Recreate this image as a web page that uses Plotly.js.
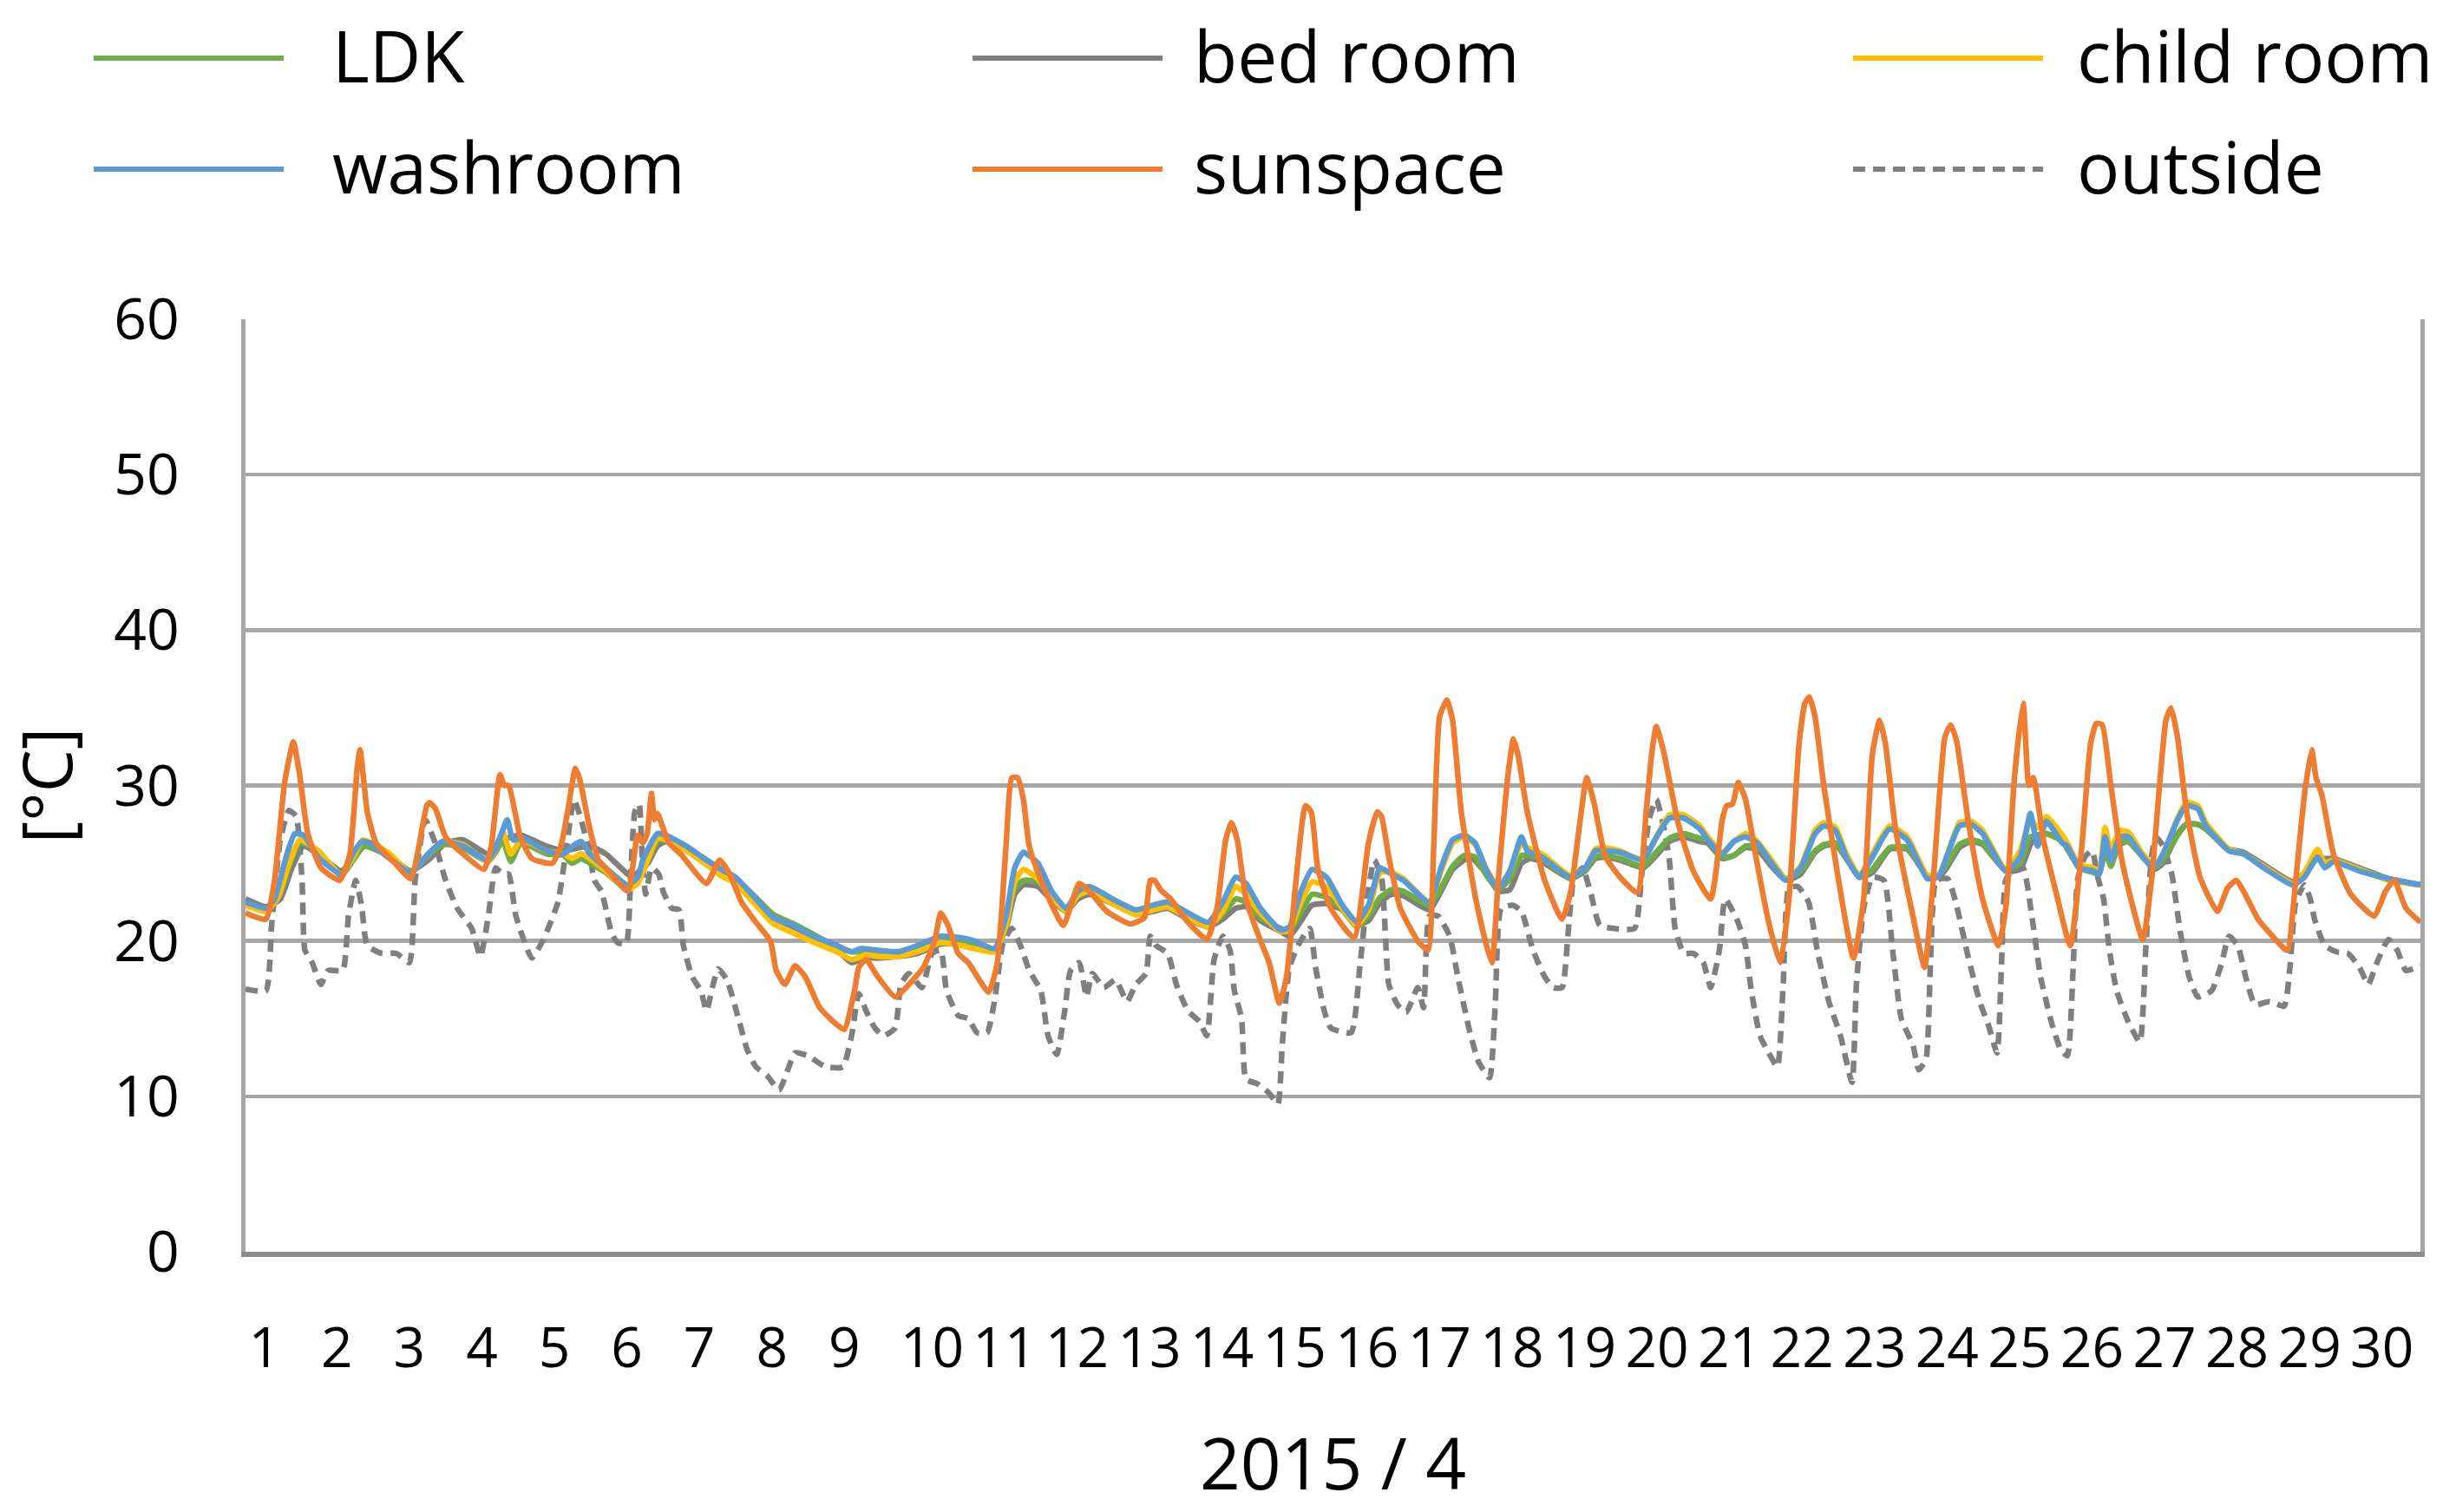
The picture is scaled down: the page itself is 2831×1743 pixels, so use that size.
<!DOCTYPE html>
<html>
<head>
<meta charset="utf-8">
<script src="https://cdn.plot.ly/plotly-3.0.1.min.js"></script>
<style>
  html, body { margin: 0; padding: 0; background: #fff; }
  #chart { width: 2831px; height: 1743px; }
</style>
</head>
<body>
<div id="chart"></div>
<script>
// x values are day-of-month (1.0 = 4/1 0:00, 31.0 = 4/30 24:00), y values in deg C
var dayLabels = ['1','2','3','4','5','6','7','8','9','10','11','12','13','14','15',
                 '16','17','18','19','20','21','22','23','24','25','26','27','28','29','30'];
var tempTicks = [0, 10, 20, 30, 40, 50, 60];

var sunspaceDay = [1.00,1.28,1.40,1.54,1.66,1.74,1.86,2.04,2.30,2.44,2.54,2.58,2.68,2.80,3.04,3.28,3.38,3.50,3.54,3.62,3.76,4.00,4.29,4.39,4.51,4.57,4.63,4.79,4.95,5.23,5.35,5.45,5.55,5.61,5.75,5.87,
  5.97,6.27,6.41,6.48,6.54,6.60,6.64,6.68,6.84,7.00,7.36,7.54,7.68,7.84,8.04,8.24,8.32,8.44,8.58,8.72,8.92,9.16,9.26,9.40,9.46,9.56,9.72,9.96,10.07,10.35,10.51,10.59,10.69,10.83,
  10.97,11.25,11.37,11.49,11.57,11.65,11.73,11.81,11.97,12.28,12.40,12.50,12.64,12.88,13.20,13.40,13.48,13.54,13.62,13.76,14.00,14.26,14.40,14.52,14.60,14.68,14.80,14.96,15.12,15.26,15.36,15.48,15.62,15.70,15.79,
  15.97,16.29,16.49,16.61,16.67,16.77,16.93,17.17,17.31,17.39,17.47,17.57,17.65,17.77,17.97,18.19,18.28,18.42,18.49,18.56,18.68,18.92,19.16,19.28,19.40,19.50,19.60,19.76,19.96,20.20,20.32,20.40,20.46,20.56,20.76,
  20.97,21.21,21.37,21.43,21.51,21.59,21.69,21.85,22.01,22.17,22.29,22.43,22.51,22.57,22.65,22.77,22.96,23.18,23.32,23.44,23.54,23.62,23.76,24.00,24.16,24.28,24.44,24.52,24.60,24.76,24.96,25.18,25.28,25.40,25.52,25.60,25.66,25.80,
  25.97,26.17,26.33,26.45,26.53,26.61,26.73,26.89,27.17,27.29,27.41,27.49,27.56,27.65,27.77,27.96,28.20,28.34,28.46,28.56,28.76,29.00,29.16,29.28,29.40,29.50,29.56,29.64,29.80,30.04,30.36,30.52,30.64,30.80,31.00];
var sunspaceT = [21.8,21.4,23.9,30.2,32.8,30.9,26.9,24.7,23.9,25.6,31.1,32.3,28.3,26.3,25.1,24.0,25.8,28.7,28.9,28.5,26.7,25.6,24.6,26.1,30.7,30.0,30.0,26.7,25.3,25.0,26.1,28.5,31.1,30.4,27.2,25.2,
  24.7,23.2,26.8,26.3,26.9,29.5,27.8,28.2,26.3,25.6,23.7,25.2,24.3,22.5,21.2,20.0,18.1,17.2,18.4,17.7,15.7,14.6,14.3,16.8,18.3,18.8,17.7,16.4,16.8,18.3,20.1,21.8,21.0,19.2,
  18.6,16.7,18.6,26.1,30.5,30.5,29.1,26.1,23.9,21.0,22.5,23.7,23.2,21.9,21.1,21.5,23.9,23.9,23.3,22.7,21.2,20.1,22.1,26.5,27.6,26.5,22.7,20.5,18.6,16.0,17.7,23.4,28.7,28.3,24.7,
  22.1,20.2,26.3,28.3,28.0,25.4,22.1,20.0,19.4,26.1,34.4,35.5,34.2,28.3,22.7,18.6,23.9,30.9,33.0,31.8,28.3,23.9,21.4,23.2,27.4,30.5,28.9,25.4,24.1,23.1,28.3,32.2,33.8,32.2,27.6,
  24.5,22.7,27.8,28.7,28.8,30.2,29.1,25.0,21.2,18.6,22.7,32.7,35.3,35.7,34.4,30.0,24.3,18.9,22.7,32.0,34.2,32.7,27.2,21.6,18.3,23.9,33.1,33.9,32.9,27.8,22.7,19.7,22.1,30.5,35.3,30.0,30.5,26.5,
  23.2,19.7,26.1,32.7,34.0,33.9,30.0,25.0,20.1,23.9,30.5,34.2,35.0,33.1,28.5,24.1,21.9,23.4,23.9,23.2,21.4,20.1,19.4,23.9,29.4,32.3,30.5,29.4,25.6,23.0,21.6,23.2,23.9,22.1,21.2];

var outsideDay = [1.00,1.28,1.36,1.48,1.60,1.70,1.78,1.82,1.92,2.04,2.14,2.34,2.42,2.52,2.60,2.68,2.88,3.08,3.26,3.34,3.48,3.60,3.76,3.92,4.12,4.24,4.35,4.45,4.55,4.63,4.73,4.95,5.11,5.31,5.43,5.53,5.63,5.75,5.81,5.91,
  6.05,6.13,6.25,6.31,6.37,6.43,6.47,6.52,6.60,6.70,6.76,6.88,6.98,7.04,7.16,7.28,7.36,7.44,7.52,7.64,7.80,7.92,8.04,8.20,8.36,8.48,8.58,8.76,9.00,9.24,9.36,9.46,9.56,9.68,9.80,9.96,10.04,10.15,10.33,10.47,10.59,10.67,10.83,
  10.97,11.09,11.23,11.33,11.45,11.57,11.69,11.81,11.97,12.07,12.19,12.30,12.38,12.50,12.60,12.68,12.84,13.00,13.16,13.28,13.42,13.48,13.56,13.72,13.84,14.00,14.16,14.26,14.36,14.48,14.58,14.64,14.74,14.80,14.96,15.12,15.24,15.30,15.40,15.54,15.68,15.76,15.88,
  15.97,16.25,16.37,16.47,16.57,16.67,16.71,16.77,16.89,17.01,17.17,17.25,17.33,17.45,17.61,17.73,17.89,18.01,18.16,18.24,18.32,18.48,18.60,18.76,18.92,19.04,19.16,19.24,19.32,19.44,19.56,19.68,19.88,20.16,20.26,20.36,20.46,20.56,20.64,20.72,20.84,
  20.97,21.11,21.21,21.33,21.41,21.57,21.69,21.77,21.89,22.01,22.13,22.21,22.29,22.41,22.56,22.68,22.84,23.00,23.16,23.22,23.32,23.44,23.60,23.72,23.84,24.00,24.08,24.18,24.24,24.32,24.48,24.60,24.76,24.92,25.04,25.16,25.22,25.28,25.40,25.52,25.64,25.76,25.92,
  26.04,26.13,26.21,26.27,26.37,26.47,26.55,26.63,26.71,26.81,26.97,27.13,27.21,27.29,27.35,27.45,27.57,27.69,27.81,27.93,28.12,28.26,28.36,28.48,28.60,28.72,28.92,29.12,29.20,29.28,29.40,29.48,29.54,29.68,29.84,30.00,30.16,30.28,30.40,30.56,30.68,30.80,31.00];
var outsideT = [16.9,16.8,21.0,26.5,28.4,28.0,23.9,19.4,18.6,17.2,18.1,18.1,21.6,23.9,22.3,19.7,19.2,19.2,18.6,23.9,27.8,26.5,23.9,22.1,20.8,19.0,21.6,24.7,24.3,24.3,21.6,18.9,20.1,22.5,26.1,29.1,27.8,25.6,23.9,23.2,
  20.5,19.9,19.8,23.9,28.3,28.8,25.6,23.0,24.7,24.3,23.2,22.1,22.0,19.7,17.7,16.8,15.5,17.0,18.2,17.5,15.0,13.0,11.9,11.3,10.4,11.7,12.8,12.6,11.9,11.9,13.9,16.6,15.5,14.4,13.9,14.4,17.2,17.9,17.0,19.2,19.4,16.8,15.2,
  15.0,14.1,14.1,16.1,19.9,20.8,19.7,18.1,16.8,13.9,12.7,15.5,18.1,18.6,16.4,17.9,17.0,17.5,16.1,17.2,17.9,20.3,19.7,19.2,17.2,15.5,14.8,13.9,18.8,20.3,19.4,16.8,15.0,11.1,10.8,10.2,9.5,13.3,18.3,19.9,20.8,18.3,15.5,
  14.4,14.1,18.3,22.7,25.2,24.1,21.6,17.2,15.9,15.4,17.0,15.7,21.6,21.6,20.3,17.5,14.1,12.2,11.2,16.1,22.1,22.3,21.9,19.4,17.7,17.0,17.0,20.3,23.9,24.7,23.0,21.0,20.8,20.8,24.3,27.8,29.1,27.4,25.2,20.8,19.2,
  19.2,18.6,17.0,19.4,22.7,21.4,19.7,16.8,13.9,12.8,11.9,17.2,23.4,23.5,22.5,19.4,16.1,13.9,10.9,17.2,22.1,24.1,23.9,19.4,15.0,13.3,11.7,12.4,18.3,23.9,24.0,22.3,19.0,16.1,14.6,12.8,18.3,23.9,24.7,24.7,21.6,17.7,14.6,
  13.0,12.6,18.3,23.9,25.4,25.8,24.1,22.7,19.4,16.8,14.8,13.5,19.4,25.4,26.7,26.1,24.3,20.5,17.7,16.4,16.8,18.6,20.3,19.7,17.5,15.9,16.1,15.8,18.3,22.5,23.6,22.7,21.4,19.7,19.3,19.2,18.3,17.2,18.6,20.1,19.4,18.1,18.4];

var washroomDay = [1.00,1.28,1.40,1.56,1.68,1.80,2.00,2.32,2.48,2.60,2.72,2.96,3.28,3.52,3.72,4.00,4.35,4.53,4.61,4.69,4.83,5.15,5.39,5.51,5.63,5.75,
  5.97,6.27,6.41,6.48,6.68,6.80,7.08,7.36,7.56,7.76,8.04,8.28,8.56,8.84,9.16,9.36,9.48,9.72,10.00,10.27,10.59,10.87,
  11.05,11.33,11.49,11.61,11.73,11.93,12.12,12.32,12.48,12.64,12.96,13.28,13.52,13.72,14.00,14.28,14.48,14.66,14.80,15.00,15.28,15.40,15.56,15.71,15.91,
  16.13,16.33,16.49,16.65,16.81,16.97,17.33,17.49,17.65,17.81,17.96,18.12,18.28,18.44,18.60,18.68,18.88,19.28,19.48,19.62,19.76,19.96,20.28,20.44,20.64,20.84,
  21.06,21.17,21.37,21.53,21.69,21.85,22.05,22.25,22.45,22.65,22.77,22.93,23.08,23.26,23.44,23.68,23.92,24.20,24.36,24.48,24.64,24.80,24.96,25.28,25.48,25.62,25.72,25.84,
  26.06,26.13,26.29,26.49,26.57,26.65,26.73,26.85,26.97,27.17,27.33,27.45,27.65,27.77,27.93,28.04,28.36,28.56,28.84,29.24,29.40,29.58,29.68,29.80,30.16,30.56,31.00];
var washroomT = [22.5,22.1,22.7,25.4,26.9,26.8,25.4,24.3,25.6,26.4,26.3,25.4,24.4,25.6,26.4,26.1,25.2,26.9,27.8,26.5,26.6,25.8,25.6,26.1,26.4,25.6,
  24.7,23.6,24.1,25.2,26.9,26.8,26.1,25.2,24.6,24.1,22.7,21.5,21.0,20.3,19.7,19.3,19.5,19.4,19.3,19.7,20.3,20.2,
  20.0,19.5,21.6,24.7,25.7,25.0,23.2,22.1,23.2,23.5,22.7,22.0,22.3,22.5,21.8,21.2,22.5,24.1,23.7,22.1,20.7,20.9,23.2,24.6,24.1,
  22.3,21.2,22.3,24.7,24.3,23.9,22.5,24.7,26.5,26.8,26.3,24.5,23.4,24.5,26.7,25.8,25.4,24.1,24.7,25.8,25.8,25.7,25.2,26.5,27.9,27.9,
  27.2,26.5,25.6,26.4,26.7,26.3,25.0,23.9,24.7,26.9,27.4,27.1,25.4,24.1,25.4,27.2,26.5,24.0,24.2,25.6,27.4,27.5,26.9,24.5,25.4,28.2,26.1,27.7,
  26.3,26.1,24.7,24.5,24.3,26.7,25.2,26.7,26.7,25.4,24.7,25.6,27.8,28.7,28.5,27.4,25.8,25.6,24.7,23.6,24.1,25.4,24.7,25.1,24.5,24.0,23.6];

var childDay = [1.00,1.28,1.45,1.60,1.75,2.00,2.32,2.50,2.62,2.96,3.28,3.50,3.72,4.00,4.35,4.55,4.66,4.80,5.15,5.39,5.50,5.63,5.75,
  5.97,6.27,6.41,6.68,6.80,7.08,7.36,7.56,7.76,8.04,8.28,8.56,8.84,9.16,9.36,9.56,9.72,10.00,10.27,10.59,10.87,
  11.05,11.33,11.49,11.61,11.73,11.93,12.12,12.32,12.48,12.64,12.96,13.28,13.52,13.72,14.00,14.28,14.48,14.66,14.80,15.00,15.28,15.40,15.56,15.71,15.91,
  16.13,16.33,16.49,16.65,16.81,16.97,17.33,17.49,17.65,17.81,17.96,18.12,18.28,18.44,18.60,18.68,18.88,19.28,19.48,19.62,19.76,19.96,20.28,20.44,20.64,20.84,
  21.06,21.17,21.37,21.53,21.69,21.85,22.05,22.25,22.45,22.65,22.77,22.93,23.08,23.26,23.44,23.68,23.92,24.20,24.36,24.48,24.64,24.80,24.96,25.28,25.48,25.62,25.72,25.84,
  26.06,26.13,26.29,26.49,26.57,26.65,26.73,26.85,26.97,27.17,27.33,27.45,27.65,27.77,27.93,28.04,28.36,28.56,28.84,29.24,29.40,29.58,29.68,29.80,30.16,30.56,31.00];
var childT = [22.3,21.9,22.8,25.0,26.5,25.8,24.3,25.5,26.5,25.7,24.4,25.5,26.4,26.2,25.1,27.0,25.6,26.5,25.8,25.6,25.3,25.6,25.3,
  24.5,23.3,23.7,26.6,26.5,25.8,24.9,24.2,23.7,22.3,21.1,20.5,19.9,19.3,18.8,19.1,19.0,19.0,19.3,19.9,19.7,
  19.5,19.3,21.0,23.8,24.6,24.0,22.8,21.9,22.9,23.2,22.4,21.7,22.0,22.2,21.5,20.9,21.9,23.5,23.0,21.8,20.6,20.7,22.5,23.8,23.5,
  22.1,21.0,22.0,24.4,24.4,24.0,22.5,24.5,26.3,26.7,26.2,24.6,23.5,24.5,26.3,26.0,25.6,24.2,24.7,25.9,26.0,25.8,25.2,26.5,28.1,28.1,
  27.4,26.7,25.7,26.4,26.9,26.4,25.2,24.0,24.8,27.1,27.6,27.3,25.6,24.2,25.6,27.4,26.7,24.2,24.3,25.6,27.6,27.7,27.1,24.6,25.8,27.8,27.3,28.0,
  26.8,26.3,24.9,24.7,24.5,27.3,25.8,27.1,27.0,25.6,24.8,25.6,27.9,28.9,28.7,27.6,25.9,25.6,24.8,23.7,24.4,25.9,25.0,25.2,24.6,23.9,23.6];

var ldkDay = childDay;
var ldkT = [22.4,22.0,22.8,24.8,26.3,25.8,24.2,25.3,26.1,25.6,24.4,25.4,26.2,26.0,25.1,26.4,25.1,26.3,25.6,25.5,25.0,25.3,25.0,
  24.4,23.3,23.8,26.4,26.5,25.9,25.1,24.5,24.0,22.8,21.7,21.1,20.4,19.6,19.3,19.3,19.2,19.3,19.5,20.0,20.0,
  19.8,19.5,21.0,23.4,23.9,23.8,22.8,22.0,22.9,23.2,22.5,21.8,22.0,22.2,21.6,21.0,21.7,22.7,22.5,21.5,20.8,20.6,21.8,23.0,22.8,
  22.0,20.9,21.6,22.8,23.3,23.2,22.3,23.4,24.8,25.5,25.4,24.2,23.3,24.0,25.5,25.5,25.3,24.0,24.6,25.4,25.5,25.3,24.8,25.6,26.6,26.9,
  26.6,26.5,25.4,25.5,26.1,26.1,25.1,24.0,24.5,25.8,26.2,26.3,25.4,24.1,24.6,26.0,26.0,24.2,24.3,25.0,26.2,26.5,26.3,24.6,25.0,26.7,26.7,26.9,
  26.4,26.0,24.7,24.4,24.3,26.0,24.8,26.4,26.4,25.4,24.7,25.2,26.8,27.5,27.5,27.2,25.8,25.6,24.8,23.7,24.3,25.3,25.1,25.2,24.6,24.0,23.6];

var bedDay = [1.00,1.28,1.48,1.64,1.80,2.00,2.32,2.48,2.64,2.96,3.28,3.52,3.76,4.00,4.35,4.55,4.79,5.15,5.39,5.75,
  5.97,6.27,6.35,6.41,6.55,6.68,6.80,7.08,7.36,7.56,7.76,8.04,8.28,8.56,8.84,9.16,9.36,9.56,9.72,10.00,10.27,10.59,10.87,
  11.05,11.33,11.49,11.61,11.73,11.93,12.12,12.32,12.48,12.64,12.96,13.28,13.52,13.72,14.00,14.28,14.48,14.66,14.80,15.00,15.28,15.40,15.56,15.71,15.91,
  16.13,16.33,16.49,16.65,16.81,16.97,17.33,17.49,17.65,17.89,18.12,18.28,18.44,18.60,18.72,18.88,19.28,19.48,19.62,19.76,19.96,20.28,20.44,20.64,20.84,
  21.06,21.17,21.37,21.53,21.69,21.85,22.05,22.25,22.45,22.65,22.77,22.93,23.08,23.26,23.44,23.68,23.92,24.20,24.36,24.48,24.64,24.80,24.96,25.28,25.48,25.62,25.72,25.84,
  26.06,26.13,26.29,26.49,26.57,26.65,26.73,26.85,26.97,27.17,27.33,27.45,27.65,27.77,27.93,28.04,28.36,28.56,28.84,29.24,29.40,29.58,29.68,29.80,30.16,30.56,31.00];
var bedT = [22.7,22.2,22.7,24.7,26.1,25.6,24.5,25.2,26.1,25.5,24.5,25.2,26.3,26.5,25.6,26.5,26.8,26.1,25.8,26.1,
  25.6,24.3,24.1,24.4,25.0,26.1,26.4,26.0,25.2,24.6,24.0,22.7,21.5,20.9,20.2,19.4,18.6,18.9,18.9,19.0,19.2,19.8,19.8,
  19.6,19.4,20.8,23.0,23.6,23.5,22.6,21.9,22.7,23.0,22.4,21.7,21.9,22.1,21.4,20.9,21.4,22.1,22.2,21.3,20.6,20.3,21.3,22.3,22.4,
  22.0,21.0,21.3,22.5,23.0,22.9,22.0,23.2,24.6,25.4,24.3,23.2,23.3,25.0,25.3,25.1,24.0,24.5,25.3,25.4,25.2,24.7,25.4,26.4,26.7,
  26.4,26.3,25.3,25.5,26.0,25.9,24.8,23.9,24.3,25.7,26.1,26.2,25.3,24.1,24.4,25.9,25.9,24.2,24.1,24.8,26.0,26.4,26.2,24.5,24.6,26.2,26.8,26.9,
  26.5,25.9,24.8,24.7,24.4,25.7,24.9,26.2,26.4,25.4,24.6,25.0,26.9,27.5,27.5,27.2,25.9,25.7,24.9,23.8,24.4,25.4,25.3,25.3,24.7,24.0,23.6];

var seriesNames  = ['LDK', 'bed room', 'child room', 'washroom', 'sunspace', 'outside'];
var seriesColors = ['#70AD47', '#7F7F7F', '#FFC000', '#5B9BD5', '#ED7D31', '#7F7F7F'];
var seriesDash   = ['solid', 'solid', 'solid', 'solid', 'solid', '14px,9px'];
var seriesX = [ldkDay, bedDay, childDay, washroomDay, sunspaceDay, outsideDay];
var seriesY = [ldkT, bedT, childT, washroomT, sunspaceT, outsideT];

var fontFamily = '"Open Sans", "Noto Sans", sans-serif';

// drawing order: outside underneath, rooms, sunspace on top
var drawOrder = [5, 1, 0, 2, 3, 4];
var data = drawOrder.map(function (i) {
    return {
        x: seriesX[i],
        y: seriesY[i],
        type: 'scatter',
        mode: 'lines',
        name: seriesNames[i],
        line: { color: seriesColors[i], width: 6.5, dash: seriesDash[i], shape: 'spline', smoothing: 0.5 },
        showlegend: false,
        hoverinfo: 'skip'
    };
});

// plot area in pixels
var W = 2831, H = 1743;
var mL = 283, mR = 41, mT = 368, mB = 300;
var pw = W - mL - mR, ph = H - mT - mB;
function px2x(p) { return (p - mL) / pw; }
function px2y(p) { return (H - mB - p) / ph; }

// legend drawn by hand: long line samples, 3 columns x 2 rows
var legCols = [108, 1121, 2136];
var legText = [381, 1374, 2392];
var legRows = [67, 195];
var shapes = [];
var annotations = [];
seriesNames.forEach(function (name, i) {
    var c = i % 3, r = Math.floor(i / 3);
    shapes.push({
        type: 'line', xref: 'paper', yref: 'paper',
        x0: px2x(legCols[c]), x1: px2x(legCols[c] + 219),
        y0: px2y(legRows[r]), y1: px2y(legRows[r]),
        line: { color: seriesColors[i], width: 6, dash: seriesDash[i] }
    });
    annotations.push({
        xref: 'paper', yref: 'paper',
        x: px2x(legText[c]), y: px2y(legRows[r] - 4),
        xanchor: 'left', yanchor: 'middle',
        text: name, showarrow: false,
        font: { family: fontFamily, size: 82, color: '#000' }
    });
});

var layout = {
    width: W,
    height: H,
    autosize: false,
    margin: { l: mL, r: mR, t: mT, b: mB },
    paper_bgcolor: '#fff',
    plot_bgcolor: '#fff',
    showlegend: false,
    font: { family: fontFamily, color: '#000' },
    xaxis: {
        range: [1, 31],
        tickmode: 'array',
        tickvals: dayLabels.map(function (s, i) { return i + 1.05 + s.length * 0.21; }),
        ticktext: dayLabels,
        ticks: '',
        showgrid: false,
        zeroline: false,
        showline: true,
        linecolor: '#8C8C8C',
        linewidth: 6,
        mirror: false,
        ticklabelstandoff: 50,
        tickfont: { family: fontFamily, size: 64, color: '#000' },
        title: { text: '2015 / 4', standoff: 68, font: { family: fontFamily, size: 82, color: '#000' } }
    },
    yaxis: {
        range: [0, 60],
        tickmode: 'array',
        tickvals: tempTicks,
        ticks: '',
        showgrid: true,
        gridcolor: '#A6A6A6',
        gridwidth: 4.5,
        zeroline: false,
        showline: true,
        linecolor: '#A6A6A6',
        linewidth: 5,
        mirror: true,
        ticklabelstandoff: 58,
        tickfont: { family: fontFamily, size: 66, color: '#000' },
        title: { text: '[°C]', standoff: 40, font: { family: fontFamily, size: 78, color: '#000' } }
    },
    shapes: shapes,
    annotations: annotations
};

Plotly.newPlot('chart', data, layout, { displayModeBar: false, staticPlot: true });
</script>
</body>
</html>
